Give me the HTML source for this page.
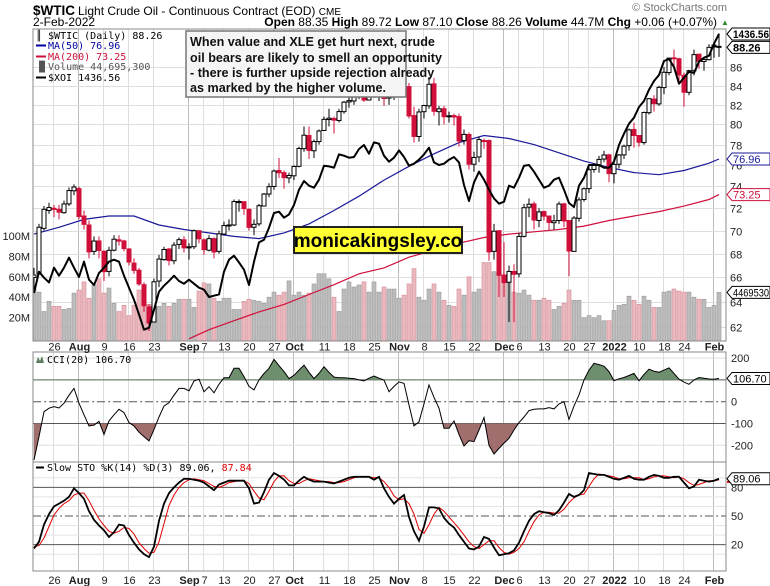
<!DOCTYPE html>
<html><head><meta charset="utf-8">
<style>
html,body{margin:0;padding:0;background:#fff;}
svg{display:block;font-family:"Liberation Sans",Arial,sans-serif;}
.mono{font-family:"DejaVu Sans Mono","Liberation Mono",monospace;}
</style></head>
<body>
<svg id="chart" width="770" height="586" viewBox="0 0 770 586" xmlns="http://www.w3.org/2000/svg">
  <defs>
    <clipPath id="mainClip"><rect x="33" y="29" width="693" height="312"/></clipPath>
    <clipPath id="cciAbove"><rect x="33" y="352" width="693" height="28.5"/></clipPath>
    <clipPath id="cciBelow"><rect x="33" y="423.5" width="693" height="39"/></clipPath>
    <clipPath id="cciClip"><rect x="33" y="352" width="693" height="110"/></clipPath>
    <clipPath id="stoClip"><rect x="33" y="462" width="693" height="109"/></clipPath>
  </defs>
  <rect x="0" y="0" width="770" height="586" fill="#ffffff"/>
  <g>
    <text x="33" y="15" font-size="14" font-weight="bold" textLength="42" lengthAdjust="spacingAndGlyphs">$WTIC</text>
    <text x="78" y="15" font-size="12">Light Crude Oil - Continuous Contract (EOD) <tspan font-size="10">CME</tspan></text>
    <text x="33" y="26" font-size="12">2-Feb-2022</text>
    <text x="717" y="26" font-size="12" text-anchor="end"><tspan font-weight="bold">Open</tspan> 88.35 <tspan font-weight="bold">High</tspan> 89.72 <tspan font-weight="bold">Low</tspan> 87.10 <tspan font-weight="bold">Close</tspan> 88.26 <tspan font-weight="bold">Volume</tspan> 44.7M <tspan font-weight="bold">Chg</tspan> +0.06 (+0.07%)</text>
    <text x="721" y="25" font-size="8" fill="#2a8a2a">▲</text>
    <text x="727" y="11" font-size="11" fill="#777" text-anchor="end">© StockCharts.com</text>
  </g>
  <g id="grid"></g>
  <g id="mainPanel" clip-path="url(#mainClip)"></g>
  <g id="cciPanel"></g>
  <g id="stoPanel"></g>
  <g id="axes"></g>
  <g class="mono" font-size="10">
    <text x="36" y="39">&#x2551; $WTIC (Daily) 88.26</text>
    <line x1="36" y1="45.5" x2="46" y2="45.5" stroke="#0000a0" stroke-width="2"/>
    <text x="48" y="49" fill="#0000a0">MA(50) 76.96</text>
    <line x1="36" y1="56.5" x2="46" y2="56.5" stroke="#d0103a" stroke-width="2"/>
    <text x="48" y="60" fill="#d0103a">MA(200) 73.25</text>
    <text x="36" y="70" fill="#555">&#x2590;&#x258C;Volume 44,695,300</text>
    <line x1="36" y1="77.5" x2="46" y2="77.5" stroke="#000" stroke-width="2"/>
    <text x="48" y="81">$XOI 1436.56</text>
  </g>
  <g>
    <rect x="186" y="31" width="220" height="66" fill="#f5f5f5" stroke="#777" stroke-width="1.5"/>
    <text font-size="12.6" font-weight="bold" fill="#111">
      <tspan x="190" y="46">When value and XLE get hurt next, crude</tspan>
      <tspan x="190" y="62">oil bears are likely to smell an opportunity</tspan>
      <tspan x="190" y="77">- there is further upside rejection already</tspan>
      <tspan x="190" y="92">as marked by the higher volume.</tspan>
    </text>
  </g>
  <g>
    <rect x="294" y="227" width="168" height="26" fill="#ffff33" stroke="#222" stroke-width="2"/>
    <text x="378" y="247" font-size="19" font-weight="bold" text-anchor="middle">monicakingsley.co</text>
  </g>
  <g class="mono" font-size="10">
    <path d="M36 363 L38 357 L40 361 L42 356 L44 363 Z" fill="#5e7f5e"/>
    <text x="47" y="363">CCI(20) 106.70</text>
  </g>
  <g class="mono" font-size="10">
    <line x1="36" y1="467.5" x2="44" y2="467.5" stroke="#000" stroke-width="2"/>
    <text x="47" y="471">Slow STO %K(14) %D(3) 89.06, <tspan fill="#e00000">87.84</tspan></text>
  </g>
</svg>
<script>
// ---------- DATA ----------
const closes = [66.2,70.3,71.9,72.07,71.9,71.65,72.39,73.62,73.95,
71.26,70.56,68.15,69.09,68.28,66.48,68.29,69.25,69.09,68.44,67.29,66.59,65.46,63.69,62.32,65.64,67.54,68.36,67.42,68.74,69.21,68.50,
68.59,69.99,69.29,68.35,69.30,68.14,69.72,70.45,70.46,72.61,72.61,71.97,70.29,70.56,72.23,73.30,73.98,75.45,75.29,74.83,75.03,
75.88,77.62,78.93,77.43,78.30,79.35,80.52,80.64,80.44,81.31,82.28,82.44,82.96,83.87,82.50,83.76,83.76,84.65,82.66,82.81,83.57,
84.05,83.91,80.86,78.81,81.27,81.93,84.15,81.34,81.59,80.79,80.88,80.76,78.36,79.01,76.10,76.75,78.50,78.39,68.15,69.95,66.18,
65.57,66.50,66.26,69.49,72.05,72.36,70.94,71.67,71.29,70.73,70.87,72.38,70.86,68.23,71.12,72.76,73.79,75.57,75.98,76.56,76.99,75.21,
76.08,76.99,77.85,79.46,78.90,78.23,81.22,82.64,82.12,83.82,85.43,86.96,86.90,85.14,83.31,85.60,87.35,86.61,86.82,88.15,
88.20,88.26];
const opens = [66.0,66.3,70.2,71.8,72.0,71.9,71.6,72.4,73.6,
73.8,71.3,70.5,68.2,69.1,68.2,66.5,68.3,69.2,69.1,68.4,67.2,66.6,65.4,63.6,62.4,65.7,67.5,68.4,67.4,68.8,69.2,
68.5,68.6,70.0,69.2,68.3,69.3,68.2,69.7,70.5,70.5,72.6,72.6,71.9,70.3,70.6,72.2,73.3,74.0,75.5,75.3,74.8,
75.0,75.9,77.6,78.9,77.4,78.3,79.4,80.5,80.6,80.4,81.3,82.3,82.4,83.0,83.9,82.5,83.8,83.8,84.6,82.7,82.8,
83.6,84.0,83.9,80.9,78.8,81.3,81.9,84.2,81.3,81.6,80.8,80.9,80.8,78.4,79.0,76.1,76.8,78.4,78.4,68.2,70.0,
66.2,65.6,66.5,66.3,69.5,72.1,72.4,70.9,71.7,71.3,70.7,70.9,72.4,70.9,68.2,71.1,72.8,73.8,75.6,76.0,76.6,77.0,
75.2,76.1,77.0,77.9,79.5,78.9,78.2,81.2,82.6,82.1,83.8,85.4,87.0,86.9,85.1,83.3,85.6,87.4,86.6,86.8,
88.4,88.2];
const highs = [66.8,70.6,72.2,72.5,72.3,72.3,72.7,73.9,74.2,
74.0,71.8,70.9,69.5,69.5,68.3,68.6,69.6,69.6,69.2,68.5,67.6,66.8,65.6,63.8,65.9,67.9,68.6,68.5,69.0,69.4,69.5,
68.9,70.1,70.0,69.3,69.6,69.4,70.0,70.8,71.0,72.8,72.8,72.6,72.0,71.0,72.4,73.4,74.3,75.6,76.7,75.5,75.3,
76.0,77.8,79.8,79.8,78.5,79.5,80.8,81.6,80.8,81.6,82.4,83.0,83.1,84.0,83.7,84.0,84.3,85.4,84.7,83.0,83.9,
84.9,84.5,84.3,81.8,81.6,82.0,84.9,84.8,81.9,81.9,81.3,81.1,81.1,79.5,79.2,77.3,78.8,78.6,78.5,70.6,70.0,
69.0,67.0,67.1,69.8,72.4,72.9,72.6,72.0,71.8,71.3,71.4,72.6,72.5,70.8,71.3,73.0,73.9,75.8,76.2,76.9,77.4,77.1,
76.4,77.1,78.0,79.6,80.2,78.5,81.3,82.7,83.0,84.0,86.0,87.0,87.9,87.0,85.4,85.7,87.9,87.3,87.1,88.5,
88.7,89.7];
const lows = [65.0,66.2,70.0,71.5,71.2,71.0,71.5,72.2,73.2,
71.0,70.1,67.6,67.9,67.6,65.7,66.1,68.2,68.7,68.2,67.0,66.3,65.3,63.2,61.7,62.4,65.2,67.4,67.0,67.1,68.4,68.1,
67.5,68.4,68.9,67.9,68.2,67.6,68.0,69.6,70.0,70.4,71.7,71.4,70.0,69.6,70.4,72.2,73.0,73.7,74.8,73.8,74.3,
74.6,75.8,77.3,76.6,76.7,78.0,79.5,79.8,79.1,80.2,81.1,81.7,82.0,82.6,82.3,82.9,83.5,82.4,81.9,82.0,82.5,
83.1,83.0,80.6,78.2,78.3,80.6,81.6,80.9,79.9,80.0,80.2,79.9,77.8,78.0,75.6,75.4,76.3,77.6,67.4,67.5,64.4,
64.4,62.4,62.4,66.0,69.4,71.2,70.1,70.3,70.9,70.0,70.1,70.6,70.3,66.1,68.2,70.8,72.6,73.4,75.3,75.3,76.3,74.4,
74.3,75.7,76.6,77.4,77.7,77.8,78.0,81.0,81.3,81.9,83.1,85.1,85.8,84.4,81.8,83.0,85.1,85.8,85.6,86.7,
87.0,87.1];
const volumesM = [48,45,26,36,31,31,28,29,44,47,55,39,52,58,44,49,34,26,32,22,32,47,36,33,34,31,34,31,34,38,38,38,30,46,54,53,39,36,39,39,28,28,36,38,37,36,34,40,45,42,
45,56,42,45,42,44,53,63,63,58,40,26,48,55,50,52,55,45,55,45,50,48,48,39,42,53,68,40,37,48,53,45,37,32,31,48,42,60,45,48,
74,74,65,65,58,61,45,44,47,42,37,37,39,37,28,31,34,47,37,37,
20,22,20,22,17,17,27,32,33,41,37,33,41,37,30,30,45,46,48,46,45,45,40,38,38,30,32,44.7];
const xoiValues = [1048,1080,1071,1064,1086,1074,1086,1101,1086,1072,1095,1068,1060,1078,1086,1095,1098,1095,1074,1056,1038,1016,993,996,1023,1050,1059,1066,1074,1066,
1062,1068,1062,1056,1053,1042,1044,1046,1080,1098,1104,1094,1083,1060,1095,1124,1128,1146,1168,1170,1161,1166,1180,1203,1216,1209,1206,1218,1239,1238,
1236,1256,1254,1251,1252,1264,1270,1257,1274,1272,1254,1245,1251,1262,1252,1239,1242,1248,1256,1266,1244,1240,1242,1248,1252,1244,1210,1186,1214,1230,
1218,1203,1190,1182,1185,1209,1206,1221,1239,1240,1230,1218,1206,1209,1218,1221,1203,1183,1177,1209,1221,1240,1240,1240,1236,1236,1245,1270,1287,1302,
1311,1327,1336,1353,1366,1375,1396,1399,1387,1362,1371,1380,1378,1395,1401,1404,1422,1436.56];
const ma50Index = [0,5,10,15,20,25,30,35,40,45,50,55,60,65,70,75,80,85,90,95,100,105,110,115,120,125,130,135,137];
const ma50Values = [69.7,70.3,71.0,71.3,71.3,70.5,70.1,69.8,69.5,69.3,69.8,70.6,71.8,73.1,74.6,75.9,77.1,78.2,78.9,78.6,78.0,77.2,76.4,75.8,75.3,75.1,75.5,76.2,76.6];
const ma200Index = [31,35,40,45,50,55,60,65,70,75,80,85,90,95,100,105,110,115,120,125,130,135,137];
const ma200Values = [61.1,61.8,62.5,63.2,63.8,64.6,65.4,66.3,66.8,67.7,68.3,68.9,69.4,69.7,69.9,70.1,70.4,70.9,71.3,71.7,72.2,72.8,73.25];
const cciValues = [-267,-160,-46,-30,-23,-29,-7,30,61,-7,-60,-111,-108,-90,-150,-88,-60,-35,-50,-96,-111,-140,-160,-180,-127,-70,-20,-4,30,61,
61,50,95,103,46,69,41,80,110,110,153,153,115,70,54,100,130,153,194,165,138,106,121,145,168,135,106,130,160,135,
113,110,110,108,106,100,96,108,118,108,99,46,70,91,84,-15,-111,-92,-10,77,20,-30,-122,-122,-88,-150,-203,-179,-183,-130,
-73,-200,-240,-214,-190,-168,-130,-96,-70,-41,-35,-33,-33,-27,-33,-10,0,-81,-20,31,100,145,176,170,163,138,96,105,111,120,
130,96,125,149,140,135,145,155,130,103,90,80,100,111,108,104,103,106.7];
const stoK = [16,23,41,52,60,63,66,70,79,74,68,55,46,40,35,28,33,41,40,30,22,15,10,7,18,45,63,74,80,85,
89,89,88,87,85,81,77,83,85,87,87,87,87,79,63,64,75,88,95,92,88,82,82,87,91,88,86,86,86,85,
84,86,88,90,91,91,91,91,88,91,79,70,63,68,72,49,34,24,39,59,59,58,48,42,38,30,23,16,15,18,
28,26,17,9,10,11,14,22,34,45,52,55,54,53,51,56,64,73,70,72,77,95,94,93,93,91,89,88,90,92,
89,88,88,91,93,92,90,90,91,91,85,79,81,88,87,86,87,89.06];
const stoD = [18,19,27,39,51,58,63,66,72,74,74,66,56,47,40,34,32,34,38,37,31,22,16,11,12,23,42,61,72,80,
85,88,89,88,87,84,81,80,82,85,86,87,87,84,76,69,67,76,86,92,92,87,84,84,87,89,88,87,86,86,
85,85,86,88,90,91,91,91,90,90,86,80,71,67,68,63,52,36,32,41,52,59,55,49,43,37,30,23,18,16,
20,24,24,17,12,10,12,16,23,34,44,51,54,54,53,53,57,64,69,72,73,81,89,94,93,92,91,89,89,90,
90,90,88,89,91,92,92,91,90,91,89,85,82,83,85,87,87,87.84];
const priceTicks = [62,64,66,68,70,72,74,76,78,80,82,84,86];
const volumeTicks = [20,40,60,80,100];
const volumeTickLabels = ["20M","40M","60M","80M","100M"];
const cciTicks = [200,0,-100,-200];
const stoTicks = [80,50,20];
const dateIndex = [4,9,14,19,24,31,34,38,43,48,52,58,63,68,73,78,83,88,94,97,102,107,111,116,121,126,130,136];
const dateLabels = ["26","Aug","9","16","23","Sep","7","13","20","27","Oct","11","18","25","Nov","8","15","22","Dec","6","13","20","27","2022","10","18","24","Feb"];
const dateIsMonth = [0,1,0,0,0,1,0,0,0,0,1,0,0,0,1,0,0,0,1,0,0,0,0,1,0,0,0,1];

// ---------- SCALES ----------
const X0 = 33, X1 = 726;
function xS(i){ return 34 + i*5; }
function yP(p){ return 67 + (Math.log(86) - Math.log(p))*795; }
function yX(v){ return 34 + (1436.56 - v)/1.5; }
function yV(m){ return 338 - m*1.02; }
function yC(c){ return 401.7 - c*0.218; }
function yS(s){ return 516 - (s-50)*0.955; }

const NS = "http://www.w3.org/2000/svg";
function mk(tag, attrs, parent){
  const el = document.createElementNS(NS, tag);
  for (const k in attrs) el.setAttribute(k, attrs[k]);
  parent.appendChild(el);
  return el;
}
const grid = document.getElementById('grid');
const mainP = document.getElementById('mainPanel');
const cciP = document.getElementById('cciPanel');
const stoP = document.getElementById('stoPanel');
const axes = document.getElementById('axes');

const panels = [[29,341],[352,462],[462,571]];
panels.forEach(function(p, k){
  const r = mk('rect', {x:X0, y:p[0], width:X1-X0, height:p[1]-p[0], fill:'none', stroke:'#888', 'stroke-width':1}, axes);
  
  
});

dateIndex.forEach(function(di, k){
  const x = xS(di) - 0.5;
  panels.forEach(function(p){
    const l = mk('line', {x1:x, y1:p[0], x2:x, y2:p[1], stroke: dateIsMonth[k] ? '#bdbdbd' : '#dedede', 'stroke-width':1}, grid);
    
    
  });
  [346.5, 580].forEach(function(yy){
    const t = mk('text', {x:x+1, y:yy+4, 'font-size':11, 'text-anchor':'middle', 'font-weight': dateIsMonth[k] ? 'bold':'normal', fill:'#222'}, axes);
    t.textContent = dateLabels[k];
    
    
  });
});

priceTicks.forEach(function(p){
  const y = Math.round(yP(p)) + 0.5;
  const l = mk('line', {x1:X0, y1:y, x2:X1, y2:y, stroke:'#dedede'}, grid);
  
  
  const t = mk('text', {x:730, y:y+4, 'font-size':11, fill:'#222'}, axes);
  t.textContent = p;
  
  
});
volumeTicks.forEach(function(v, k){
  const t = mk('text', {x:30, y:yV(v)+4, 'font-size':11, 'text-anchor':'end', fill:'#222'}, axes);
  t.textContent = volumeTickLabels[k];
  
  
});

volumesM.forEach(function(v, i){
  const down = i > 0 && closes[i] < closes[i-1];
  const b = mk('rect', {x:xS(i)-2, y:yV(v), width:4, height:341-yV(v), fill: down ? '#e9b9bf' : '#bcbcbc', stroke: down ? '#d88a94' : '#999', 'stroke-width':0.6}, mainP);
  
  
});

function polyFrom(idx, vals, yf){
  return idx.map(function(ii, k){ return xS(ii).toFixed(1)+','+yf(vals[k]).toFixed(1); }).join(' ');
}
const ma200 = mk('polyline', {points: polyFrom(ma200Index, ma200Values, yP), fill:'none', stroke:'#d0103a', 'stroke-width':1.2}, mainP);


const ma50 = mk('polyline', {points: polyFrom(ma50Index, ma50Values, yP), fill:'none', stroke:'#1a1a9a', 'stroke-width':1.2}, mainP);



const nC = Math.min(closes.length, opens.length, highs.length, lows.length);
for (let i = 0; i < nC; i++){
  const o = opens[i], c = closes[i];
  const red = i > 0 && c < closes[i-1];
  const col = red ? '#d0103a' : '#000';
  const x = xS(i);
  const g = mk('g', {}, mainP);
  
  
  mk('line', {x1:x, y1:yP(highs[i]), x2:x, y2:yP(lows[i]), stroke:col, 'stroke-width':1}, g);
  const top = yP(Math.max(o,c)), bot = yP(Math.min(o,c));
  const hollow = c >= o;
  mk('rect', {x:x-2, y:top, width:4, height:Math.max(1, bot-top), fill: hollow ? '#fff' : col, stroke:col, 'stroke-width':1}, g);
}

const xoi = mk('polyline', {points: xoiValues.map(function(v,i){ return xS(i).toFixed(1)+','+yX(v).toFixed(1); }).join(' '), fill:'none', stroke:'#000', 'stroke-width':2, 'stroke-linejoin':'round'}, mainP);



function tag(y, txt, col, bold, name){
  const g = mk('g', {}, axes);
  
  
  mk('path', {d:'M727 '+y+' L732 '+(y-6)+' L770 '+(y-6)+' L770 '+(y+6)+' L732 '+(y+6)+' Z', fill:'#fff', stroke:col, 'stroke-width':1}, g);
  const t = mk('text', {x:733, y:y+4, 'font-size':11, fill:col, 'font-weight': bold ? 'bold':'normal'}, g);
  if (txt.length > 6) { t.setAttribute('textLength', 36); t.setAttribute('lengthAdjust', 'spacingAndGlyphs'); }
  t.textContent = txt;
}
tag(yX(xoiValues[xoiValues.length-1]), '1436.56', '#000', true, 'xoi-value-tag');
tag(yP(closes[closes.length-1])+1, '88.26', '#000', true, 'price-value-tag');
tag(yP(ma50Values[ma50Values.length-1]), '76.96', '#1a1a9a', false, 'ma50-value-tag');
tag(yP(ma200Values[ma200Values.length-1]), '73.25', '#d0103a', false, 'ma200-value-tag');
tag(yV(volumesM[volumesM.length-1]), '4469530', '#000', false, 'volume-value-tag');

// ---------- CCI ----------
[200,-200].forEach(function(v){
  const l = mk('line', {x1:X0, y1:yC(v), x2:X1, y2:yC(v), stroke:'#dedede'}, cciP);
  
  
});
[100,-100].forEach(function(v){
  const l = mk('line', {x1:X0, y1:yC(v), x2:X1, y2:yC(v), stroke:'#555', 'stroke-width':1}, cciP);
  
  
});
const cciZero = mk('line', {x1:X0, y1:yC(0), x2:X1, y2:yC(0), stroke:'#555', 'stroke-dasharray':'8,3,2,3'}, cciP);


const cciPts = cciValues.map(function(v,i){ return xS(i).toFixed(1)+','+yC(v).toFixed(1); });
const lastX = xS(cciValues.length-1);
const areaUp = mk('polygon', {points: xS(0)+','+yC(100)+' '+cciPts.join(' ')+' '+lastX+','+yC(100), fill:'#6d8f6d', stroke:'none', 'clip-path':'url(#cciAbove)'}, cciP);


const areaDn = mk('polygon', {points: xS(0)+','+yC(-100)+' '+cciPts.join(' ')+' '+lastX+','+yC(-100), fill:'#a06e6c', stroke:'none', 'clip-path':'url(#cciBelow)'}, cciP);


const cciLine = mk('polyline', {points: cciPts.join(' '), fill:'none', stroke:'#000', 'stroke-width':1, 'clip-path':'url(#cciClip)'}, cciP);


cciTicks.forEach(function(v){
  const t = mk('text', {x:731, y:yC(v)+4, 'font-size':11, fill:'#222'}, axes);
  t.textContent = v;
  
  
});
tag(yC(cciValues[cciValues.length-1]), '106.70', '#000', false, 'cci-value-tag');

// ---------- STOCHASTIC ----------
[90,70,60,40,30,10].forEach(function(v){
  const l = mk('line', {x1:X0, y1:yS(v), x2:X1, y2:yS(v), stroke:'#e4e4e4'}, stoP);
  
  
});
[80,20].forEach(function(v){
  const l = mk('line', {x1:X0, y1:yS(v), x2:X1, y2:yS(v), stroke:'#555'}, stoP);
  
  
});
const sto50 = mk('line', {x1:X0, y1:yS(50), x2:X1, y2:yS(50), stroke:'#555', 'stroke-dasharray':'8,3,2,3'}, stoP);


const dLine = mk('polyline', {points: stoD.map(function(v,i){ return xS(i).toFixed(1)+','+yS(v).toFixed(1); }).join(' '), fill:'none', stroke:'#e00000', 'stroke-width':1, 'clip-path':'url(#stoClip)'}, stoP);


const kLine = mk('polyline', {points: stoK.map(function(v,i){ return xS(i).toFixed(1)+','+yS(v).toFixed(1); }).join(' '), fill:'none', stroke:'#000', 'stroke-width':1.8, 'clip-path':'url(#stoClip)'}, stoP);


stoTicks.forEach(function(v){
  const t = mk('text', {x:731, y:yS(v)+4, 'font-size':11, fill:'#222'}, axes);
  t.textContent = v;
  
  
});
const dTagLine = mk('line', {x1:727, y1:yS(stoD[stoD.length-1])+2, x2:770, y2:yS(stoD[stoD.length-1])+2, stroke:'#e00000', 'stroke-width':2}, axes);


tag(yS(stoK[stoK.length-1]), '89.06', '#000', false, 'sto-k-value-tag');
</script>
</body></html>
